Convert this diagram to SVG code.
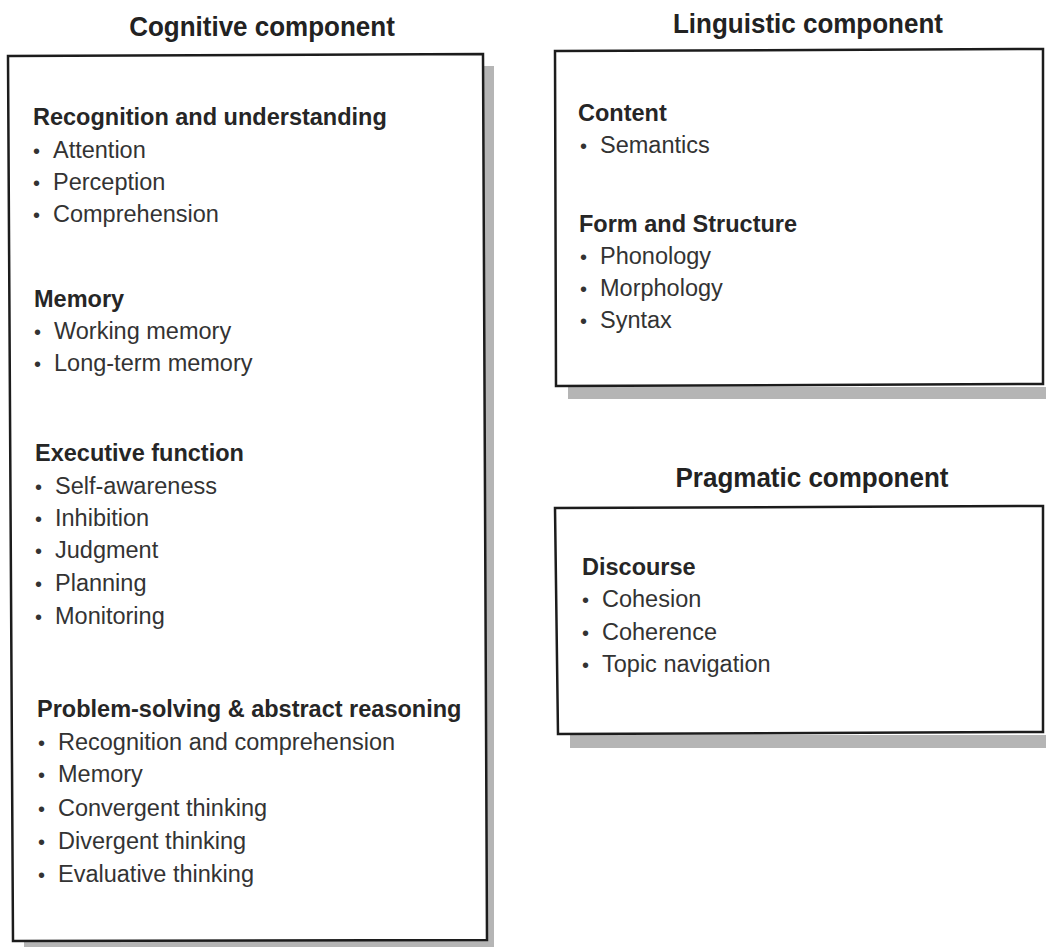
<svg xmlns="http://www.w3.org/2000/svg" width="1046" height="947" viewBox="0 0 1046 947">
<style>
.title{font-family:"Liberation Sans",Arial,sans-serif;font-weight:bold;font-size:26px;fill:#222;text-anchor:middle}
.head{font-family:"Liberation Sans",Arial,sans-serif;font-weight:bold;font-size:23.5px;fill:#262626}
.item{font-family:"Liberation Sans",Arial,sans-serif;font-size:23.5px;fill:#333}
.bul{font-size:20px}
.box{fill:#ffffff;stroke:#1c1c1c;stroke-width:2.5}
.shadow{fill:#b5b5b5}
</style>
<rect width="1046" height="947" fill="#ffffff"/>
<g id="cognitive">
<text class="title" x="262" y="36" transform="translate(0,36) scale(1,1.08) translate(0,-36)">Cognitive component</text>
<rect class="shadow" x="484" y="66" width="10" height="881"/>
<rect class="shadow" x="24" y="941" width="470" height="6"/>
<polygon class="box" points="8,56 483,54 487,940 13,941"/>
<text class="head" x="33" y="125">Recognition and understanding</text>
<text class="item" y="158"><tspan class="bul" x="33">•</tspan><tspan x="53">Attention</tspan></text>
<text class="item" y="190"><tspan class="bul" x="33">•</tspan><tspan x="53">Perception</tspan></text>
<text class="item" y="222"><tspan class="bul" x="33">•</tspan><tspan x="53">Comprehension</tspan></text>
<text class="head" x="34" y="307">Memory</text>
<text class="item" y="339"><tspan class="bul" x="34">•</tspan><tspan x="54">Working memory</tspan></text>
<text class="item" y="371"><tspan class="bul" x="34">•</tspan><tspan x="54">Long-term memory</tspan></text>
<text class="head" x="35" y="461">Executive function</text>
<text class="item" y="494"><tspan class="bul" x="35">•</tspan><tspan x="55">Self-awareness</tspan></text>
<text class="item" y="526"><tspan class="bul" x="35">•</tspan><tspan x="55">Inhibition</tspan></text>
<text class="item" y="558"><tspan class="bul" x="35">•</tspan><tspan x="55">Judgment</tspan></text>
<text class="item" y="591"><tspan class="bul" x="35">•</tspan><tspan x="55">Planning</tspan></text>
<text class="item" y="624"><tspan class="bul" x="35">•</tspan><tspan x="55">Monitoring</tspan></text>
<text class="head" x="37" y="717">Problem-solving &amp; abstract reasoning</text>
<text class="item" y="750"><tspan class="bul" x="38">•</tspan><tspan x="58">Recognition and comprehension</tspan></text>
<text class="item" y="782"><tspan class="bul" x="38">•</tspan><tspan x="58">Memory</tspan></text>
<text class="item" y="816"><tspan class="bul" x="38">•</tspan><tspan x="58">Convergent thinking</tspan></text>
<text class="item" y="849"><tspan class="bul" x="38">•</tspan><tspan x="58">Divergent thinking</tspan></text>
<text class="item" y="882"><tspan class="bul" x="38">•</tspan><tspan x="58">Evaluative thinking</tspan></text>
</g>
<g id="linguistic">
<text class="title" x="808" y="33" transform="translate(0,33) scale(1,1.08) translate(0,-33)">Linguistic component</text>
<rect class="shadow" x="568" y="387" width="478" height="12"/>
<polygon class="box" points="555,51 1043,49 1043,384 556,386"/>
<text class="head" x="578" y="121">Content</text>
<text class="item" y="153"><tspan class="bul" x="580">•</tspan><tspan x="600">Semantics</tspan></text>
<text class="head" x="579" y="232">Form and Structure</text>
<text class="item" y="264"><tspan class="bul" x="580">•</tspan><tspan x="600">Phonology</tspan></text>
<text class="item" y="296"><tspan class="bul" x="580">•</tspan><tspan x="600">Morphology</tspan></text>
<text class="item" y="328"><tspan class="bul" x="580">•</tspan><tspan x="600">Syntax</tspan></text>
</g>
<g id="pragmatic">
<text class="title" x="812" y="487" transform="translate(0,487) scale(1,1.08) translate(0,-487)">Pragmatic component</text>
<rect class="shadow" x="570" y="735" width="476" height="13"/>
<polygon class="box" points="555,508 1043,506 1043,732 558,734"/>
<text class="head" x="582" y="575">Discourse</text>
<text class="item" y="607"><tspan class="bul" x="582">•</tspan><tspan x="602">Cohesion</tspan></text>
<text class="item" y="640"><tspan class="bul" x="582">•</tspan><tspan x="602">Coherence</tspan></text>
<text class="item" y="672"><tspan class="bul" x="582">•</tspan><tspan x="602">Topic navigation</tspan></text>
</g>
<g id="connectors"></g>
</svg>
